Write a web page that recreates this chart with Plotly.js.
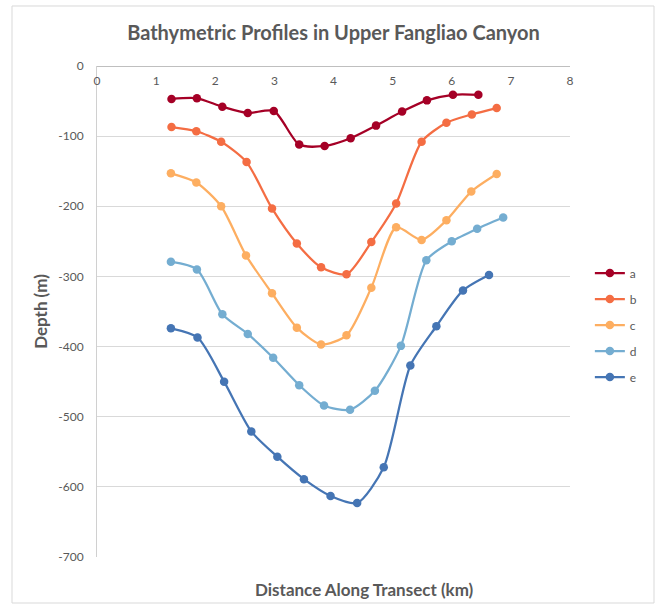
<!DOCTYPE html>
<html>
<head>
<meta charset="utf-8">
<script src="https://cdn.plot.ly/plotly-3.0.1.min.js"></script>
<style>
  html, body { margin: 0; padding: 0; background: #ffffff; }
  #chart { width: 658px; height: 604px; }
</style>
</head>
<body>
<div id="chart"></div>
<script>
// Profile distances (km) and depths (m) for each transect line
const aDist = [1.26, 1.69, 2.12, 2.55, 2.99, 3.42, 3.85, 4.29, 4.72, 5.16, 5.58, 6.02, 6.45];
const aDepth = [-47, -46, -58, -67, -64, -112, -114, -103, -85, -65, -49, -41, -41];

const bDist = [1.26, 1.68, 2.10, 2.53, 2.96, 3.38, 3.79, 4.22, 4.64, 5.06, 5.49, 5.91, 6.34, 6.76];
const bDepth = [-87, -93, -108, -137, -203, -253, -287, -297, -251, -196, -108, -81, -69, -60];

const cDist = [1.25, 1.68, 2.10, 2.52, 2.96, 3.38, 3.79, 4.22, 4.64, 5.06, 5.49, 5.91, 6.33, 6.76];
const cDepth = [-153, -166, -200, -270, -324, -373, -397, -384, -316, -230, -248, -220, -179, -154];

const dDist = [1.25, 1.69, 2.12, 2.55, 2.98, 3.42, 3.84, 4.28, 4.70, 5.14, 5.57, 6.00, 6.43, 6.87];
const dDepth = [-279, -290, -354, -382, -416, -455, -484, -490, -463, -399, -277, -250, -232, -216];

const eDist = [1.25, 1.70, 2.15, 2.61, 3.05, 3.50, 3.95, 4.40, 4.85, 5.30, 5.74, 6.19, 6.63];
const eDepth = [-374, -387, -450, -521, -557, -589, -613, -623, -572, -427, -371, -320, -298];

const seriesNames = ['a', 'b', 'c', 'd', 'e'];
const seriesColors = ['#a50026', '#f46d43', '#fdae61', '#74add1', '#4575b4'];

const xTickVals = [0, 1, 2, 3, 4, 5, 6, 7, 8];
const yTickVals = [0, -100, -200, -300, -400, -500, -600, -700];
const yTickText = ['0', '-100', '-200', '-300', '-400', '-500', '-600', '-700'];

const FONT = 'Lato, "Open Sans", sans-serif';
const GREY = '#595959';

const dists = [aDist, bDist, cDist, dDist, eDist];
const depths = [aDepth, bDepth, cDepth, dDepth, eDepth];

const traces = seriesNames.map((name, i) => ({
  type: 'scatter',
  mode: 'lines+markers',
  name: name,
  legendgroup: name,
  x: dists[i],
  y: depths[i],
  line: { color: seriesColors[i], width: 2.25, shape: 'spline', smoothing: 0.7 },
  marker: { color: seriesColors[i], size: 8.5 },
  cliponaxis: false
}));

const layout = {
  width: 658,
  height: 604,
  margin: { l: 97, r: 88, t: 66, b: 47 },
  paper_bgcolor: '#ffffff',
  plot_bgcolor: '#ffffff',
  font: { family: FONT, color: GREY, size: 12 },
  title: {
    text: 'Bathymetric Profiles in Upper Fangliao Canyon',
    font: { family: FONT, size: 20, color: GREY, weight: 'bold' },
    x: 0.5, xref: 'paper', xanchor: 'center',
    y: 33, yref: 'container', yanchor: 'middle'
  },
  xaxis: {
    range: [0, 8],
    tickvals: xTickVals,
    anchor: 'free',
    position: 1,
    side: 'bottom',
    showgrid: false,
    zeroline: false,
    showline: false,
    ticks: '',
    ticklabelstandoff: 6,
    tickfont: { family: FONT, size: 12, color: GREY },
    automargin: false,
    fixedrange: true
  },
  yaxis: {
    range: [-700, 0],
    tickvals: yTickVals,
    ticktext: yTickText,
    showgrid: true,
    gridcolor: '#d9d9d9',
    gridwidth: 1,
    zeroline: true,
    zerolinecolor: '#bfbfbf',
    zerolinewidth: 1,
    showline: true,
    linecolor: '#d0d0d0',
    linewidth: 1,
    ticks: '',
    ticklabelstandoff: 10,
    tickfont: { family: FONT, size: 12, color: GREY },
    title: {
      text: 'Depth (m)',
      font: { family: FONT, size: 17, color: GREY, weight: 'bold' },
      standoff: 6
    },
    automargin: false,
    fixedrange: true
  },
  showlegend: true,
  legend: {
    x: 1.042, xanchor: 'left',
    y: 0.4725, yanchor: 'middle',
    font: { family: FONT, size: 12, color: GREY },
    tracegroupgap: 7,
    bgcolor: 'rgba(0,0,0,0)'
  },
  annotations: [{
    text: 'Distance Along Transect (km)',
    xref: 'paper', yref: 'paper',
    x: 0.5645, y: -0.0672,
    xanchor: 'center', yanchor: 'middle',
    showarrow: false,
    font: { family: FONT, size: 17, color: GREY, weight: 'bold' }
  }],
  shapes: [{
    type: 'rect',
    xref: 'paper', yref: 'paper',
    x0: -0.1797, x1: 1.1776, y0: -0.0937, y1: 1.1222,
    line: { color: '#d9d9d9', width: 1 },
    fillcolor: 'rgba(0,0,0,0)',
    layer: 'below'
  }]
};

Plotly.newPlot('chart', traces, layout, { displayModeBar: false, staticPlot: true });
</script>
</body>
</html>
